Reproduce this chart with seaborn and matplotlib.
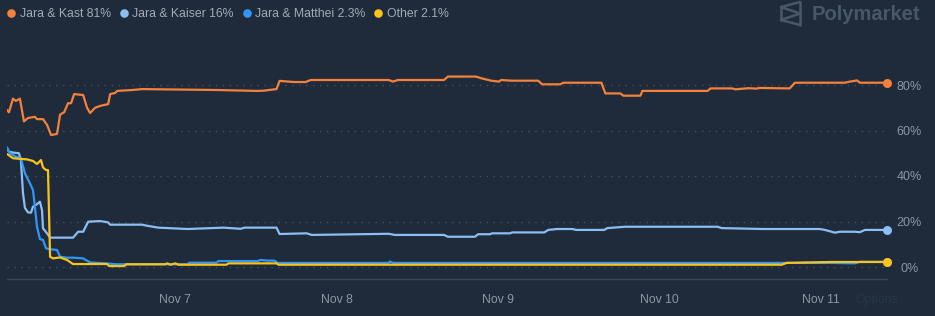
import numpy as np
import pandas as pd
import matplotlib
matplotlib.use("Agg")
import matplotlib.pyplot as plt
import matplotlib.dates as mdates
from matplotlib.lines import Line2D
import seaborn as sns

# ---------------- data (time = fractional day of November 2025, value = %) ----------------
kast_t = [5.957, 5.969, 5.994, 6.012, 6.037, 6.062, 6.087, 6.130, 6.143, 6.180, 6.205, 6.230,
          6.267, 6.286, 6.311, 6.335, 6.354, 6.373, 6.429, 6.453, 6.472, 6.503, 6.534, 6.584,
          6.596, 6.627, 6.640, 6.733, 6.795, 7.255, 7.509, 7.547, 7.627, 7.646, 7.739, 7.807,
          7.839, 8.323, 8.348, 8.379, 8.665, 8.689, 8.863, 8.894, 8.957, 9.006, 9.019, 9.081,
          9.248, 9.273, 9.385, 9.404, 9.640, 9.665, 9.758, 9.776, 9.882, 9.894, 10.298, 10.317,
          10.45, 10.47, 10.553, 10.60, 10.62, 10.807, 10.839, 11.149, 11.180, 11.224, 11.242, 11.410]
kast_v = [69, 68, 74, 73, 74, 64, 65.5, 66, 65, 65, 62.5, 58,
          58.5, 67, 68, 72, 72, 76, 75.6, 70, 67.7, 70, 70.8, 71.6,
          76, 76.5, 77.4, 77.8, 78.2, 77.8, 77.4, 77.5, 78.2, 81.8, 81.3, 81.3,
          82.2, 82.2, 81.5, 82.2, 82.2, 83.7, 83.7, 83.0, 81.9, 81.5, 82.2, 81.9,
          81.9, 80.3, 80.3, 81.0, 81.0, 76.3, 76.3, 75.3, 75.3, 77.4, 77.4, 78.5,
          78.5, 78.1, 78.6, 78.4, 78.7, 78.5, 81.0, 81.0, 81.5, 82.0, 81.0, 81.0]

kaiser_t = [5.957, 5.969, 5.994, 6.031, 6.043, 6.056, 6.068, 6.087, 6.106, 6.118, 6.137, 6.161,
            6.174, 6.180, 6.205, 6.224, 6.366, 6.398, 6.429, 6.460, 6.534, 6.584, 6.596, 6.795,
            6.820, 6.894, 7.075, 7.298, 7.404, 7.429, 7.627, 7.646, 7.814, 7.845, 8.323, 8.360,
            8.665, 8.689, 8.857, 8.876, 8.950, 8.963, 9.075, 9.087, 9.286, 9.311, 9.366, 9.460,
            9.484, 9.658, 9.677, 9.789, 10.360, 10.385, 10.640, 10.994, 11.025, 11.087, 11.118,
            11.211, 11.242, 11.273, 11.410]
kaiser_v = [52.2, 50.7, 50.3, 50.0, 47.0, 32.5, 26.0, 24.0, 23.9, 26.5, 27.3, 28.7,
            25.0, 17.0, 14.8, 12.9, 12.9, 15.5, 15.5, 19.9, 20.2, 19.6, 18.6, 18.6,
            18.2, 17.3, 16.7, 17.3, 16.8, 17.3, 17.3, 14.5, 14.8, 14.1, 14.6, 14.1,
            14.1, 13.3, 13.3, 14.4, 14.4, 14.8, 14.8, 15.2, 15.2, 16.3, 16.7, 16.7,
            16.3, 16.3, 17.1, 17.7, 17.7, 17.1, 16.7, 16.7, 16.3, 15.1, 15.5,
            15.5, 15.3, 16.3, 16.3]

matthei_t = [5.957, 5.975, 6.012, 6.043, 6.068, 6.099, 6.118, 6.130, 6.143, 6.161, 6.180, 6.199,
             6.224, 6.267, 6.286, 6.329, 6.366, 6.429, 6.472, 6.565, 6.634, 7.075, 7.087, 7.255,
             7.267, 7.509, 7.528, 7.571, 7.615, 7.634, 8.323, 8.329, 8.348, 11.068, 11.211,
             11.242, 11.410]
matthei_v = [52.6, 50.0, 48.5, 47.8, 41.2, 36.8, 33.8, 26.5, 17.7, 12.3, 11.9, 8.2,
             7.8, 7.5, 4.5, 4.1, 4.1, 3.8, 2.0, 1.6, 1.2, 1.2, 1.9, 1.9,
             2.6, 2.6, 3.1, 2.8, 2.8, 1.8, 1.8, 2.4, 1.8, 1.8, 1.6,
             2.3, 2.3]

other_t = [5.957, 5.994, 6.081, 6.118, 6.143, 6.168, 6.180, 6.199, 6.211, 6.224, 6.242, 6.286,
           6.329, 6.366, 6.578, 6.590, 6.683, 6.696, 6.938, 6.950, 6.970, 7.000, 7.020, 7.317,
           7.330, 7.627, 7.640, 10.758, 10.789, 11.068, 11.242, 11.410]
other_v = [49.7, 47.8, 47.3, 46.6, 45.3, 47.0, 43.8, 42.6, 42.6, 4.5, 3.8, 4.2,
           3.1, 1.3, 1.3, 0.4, 0.4, 1.2, 1.2, 1.6, 1.0, 1.6, 1.0, 1.0,
           1.6, 1.6, 1.0, 1.0, 1.8, 2.2, 2.2, 2.2]

series_names = ["Jara & Kast", "Jara & Kaiser", "Jara & Matthei", "Other"]
legend_values = ["81%", "16%", "2.3%", "2.1%"]
series_colors = ["#f5813a", "#8cbdf3", "#2e97f7", "#f9c31a"]
y_ticks = [0, 20, 40, 60, 80]
x_tick_days = [7, 8, 9, 10, 11]

# ---------------- style ----------------
BG = "#1f2b3b"
GRID = "#43505f"
TICK = "#8c97a4"
LEG = "#a2acb8"

sns.set_theme(style="dark")
plt.rcParams["font.family"] = ["Liberation Sans", "DejaVu Sans"]

W, H = 935, 316
fig = plt.figure(figsize=(W / 100, H / 100), dpi=100, facecolor=BG)

# axes region in pixels: x 7..887, y-bottom 279; 0% at y=267, 80% at y=85
px_per_pct = (267 - 85) / 80.0
y_lo = (267 - 279) / px_per_pct
y_hi = 100.0
top_px = 267 - y_hi * px_per_pct
ax = fig.add_axes([7 / W, (H - 279) / H, 880 / W, (279 - top_px) / H])
ax.set_facecolor(BG)

def to_dt(days):
    return pd.Timestamp("2025-11-01") + pd.to_timedelta(np.asarray(days, dtype=float) - 1.0, unit="D")

all_t = [kast_t, kaiser_t, matthei_t, other_t]
all_v = [kast_v, kaiser_v, matthei_v, other_v]

frames = []
for name, t, v in zip(series_names, all_t, all_v):
    frames.append(pd.DataFrame({"time": to_dt(t), "value": v, "series": name}))
df = pd.concat(frames, ignore_index=True)

for name, color in zip(series_names, series_colors):
    sub = df[df["series"] == name]
    sns.lineplot(data=sub, x="time", y="value", ax=ax, color=color, linewidth=1.6,
                 estimator=None, sort=False, legend=False)

# end-point dots
last = df.groupby("series", sort=False).tail(1)
for name, color in zip(series_names, series_colors):
    row = last[last["series"] == name]
    ax.scatter(row["time"], row["value"], s=42, color=color, zorder=5, clip_on=False,
               linewidths=0)

ax.set_xlim(to_dt(kast_t[0]), to_dt(kast_t[-1]))
ax.set_ylim(y_lo, y_hi)

# grid
ax.set_yticks(y_ticks)
ax.yaxis.grid(True, color=GRID, linestyle=(0, (1, 4)), linewidth=1.0)
ax.xaxis.grid(False)
ax.yaxis.tick_right()
ax.set_yticklabels([f"{v}%" for v in y_ticks])
for lab in ax.get_yticklabels():
    lab.set_horizontalalignment("center")
ax.tick_params(axis="y", length=0, pad=16, labelsize=9, labelcolor=TICK)

ax.set_xticks(list(to_dt(x_tick_days)))
ax.xaxis.set_major_formatter(mdates.DateFormatter("%b %-d"))
ax.tick_params(axis="x", length=0, pad=10.5, labelsize=8.8, labelcolor=TICK)
ax.set_xlabel("")
ax.set_ylabel("")

for s in ["top", "left", "right"]:
    ax.spines[s].set_visible(False)
ax.spines["bottom"].set_color("#3a4657")
ax.spines["bottom"].set_linewidth(1.0)

# legend
handles = [Line2D([], [], marker="o", linestyle="", markersize=6.2, color=c,
                  markeredgewidth=0) for c in series_colors]
labels = [f"{n} {v}" for n, v in zip(series_names, legend_values)]
leg = fig.legend(handles, labels, loc="upper left", bbox_to_anchor=(7 / W, 1 - 8 / H),
                 ncol=4, frameon=False, fontsize=8.8, handlelength=0.7, handletextpad=0.35,
                 columnspacing=0.7, borderpad=0, borderaxespad=0)
for txt in leg.get_texts():
    txt.set_color(LEG)

# watermark
WM = "#4a5768"
fig.text(812 / W, 1 - 14 / H, "Polymarket", fontsize=14.5, fontweight="bold", color=WM,
         ha="left", va="center")
def fl(x0, y0, x1, y1):
    fig.add_artist(Line2D([x0 / W, x1 / W], [1 - y0 / H, 1 - y1 / H], color=WM, lw=1.8,
                          solid_capstyle="round", solid_joinstyle="round"))
fl(800, 2, 800, 25)
fl(781, 7, 800, 2)
fl(781, 20, 800, 25)
fl(781, 7, 781, 20)
fl(781, 7, 800, 13.5)
fl(781, 20, 800, 13.5)

fig.text(877 / W, 1 - 300 / H, "Options", fontsize=8.8, color="#2a3748", ha="center",
         va="center")

fig.savefig("out.png", dpi=100, facecolor=BG)
